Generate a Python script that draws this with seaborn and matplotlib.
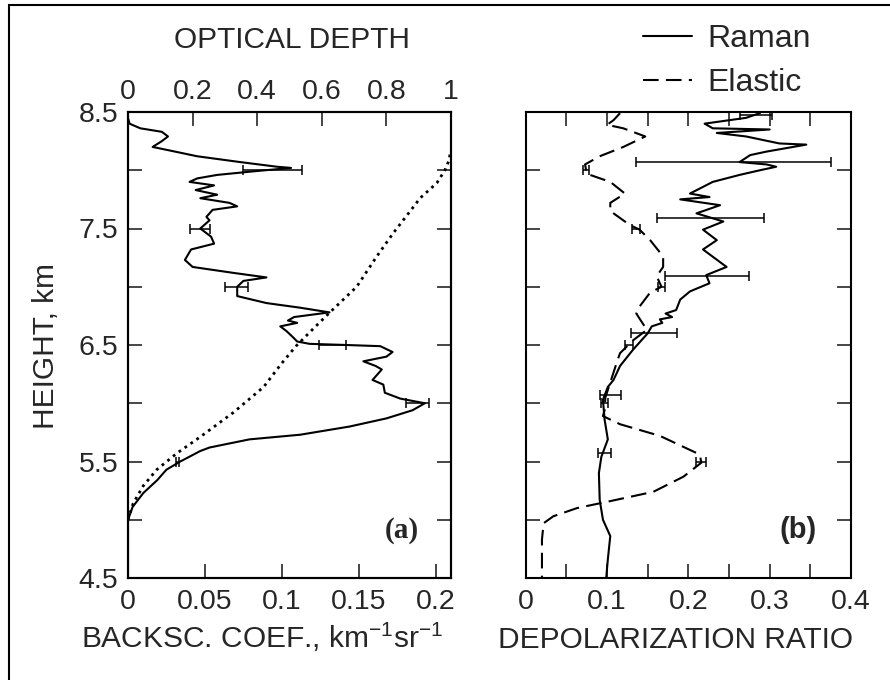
import numpy as np
import matplotlib
matplotlib.use("Agg")
import matplotlib.pyplot as plt
from matplotlib.patches import Rectangle
import seaborn as sns

# ---------------- data ----------------
# Panel (a): backscatter coefficient (km^-1 sr^-1) vs height (km)
h_back = [8.50, 8.45, 8.40, 8.36, 8.33, 8.29, 8.25, 8.20, 8.17, 8.12, 8.07, 8.03,
          8.02, 7.99, 7.96, 7.93, 7.90, 7.87, 7.83, 7.79, 7.76, 7.72, 7.69, 7.66,
          7.60, 7.57, 7.50, 7.43, 7.37, 7.32, 7.23, 7.17, 7.12, 7.08, 7.05, 7.00,
          6.92, 6.86, 6.82, 6.78, 6.74, 6.71, 6.69, 6.66, 6.62, 6.57, 6.53, 6.51,
          6.50, 6.49, 6.44, 6.40, 6.36, 6.32, 6.29, 6.20, 6.16, 6.09, 6.04, 6.00,
          5.94, 5.87, 5.80, 5.73, 5.69, 5.62, 5.59, 5.50, 5.43, 5.34, 5.23, 5.11,
          5.00, 4.80, 4.50]
backsc = [0.000, 0.000, 0.001, 0.008, 0.022, 0.026, 0.022, 0.016, 0.027, 0.045, 0.073, 0.097,
          0.106, 0.081, 0.058, 0.045, 0.040, 0.056, 0.044, 0.058, 0.047, 0.066, 0.071, 0.055,
          0.051, 0.053, 0.047, 0.054, 0.056, 0.041, 0.037, 0.042, 0.068, 0.090, 0.075, 0.071,
          0.071, 0.090, 0.112, 0.131, 0.108, 0.104, 0.110, 0.099, 0.103, 0.107, 0.110, 0.118,
          0.142, 0.164, 0.172, 0.168, 0.153, 0.161, 0.165, 0.159, 0.166, 0.167, 0.177, 0.193,
          0.185, 0.168, 0.144, 0.112, 0.079, 0.053, 0.047, 0.034, 0.025, 0.019, 0.010, 0.003,
          0.000, 0.000, 0.000]
backsc_err_h = [8.00, 7.50, 7.00, 6.50, 6.00, 5.50]
backsc_err_x = [0.094, 0.047, 0.0705, 0.133, 0.188, 0.032]
backsc_err = [0.019, 0.0065, 0.0075, 0.009, 0.0075, 0.001]

# Panel (a): optical depth (top axis)
h_od = [5.00, 5.14, 5.29, 5.43, 5.57, 5.71, 5.92, 6.14, 6.34, 6.49, 6.63, 6.78,
        7.00, 7.26, 7.46, 7.69, 7.76, 7.89, 8.00, 8.08, 8.15]
optical_depth = [0.000, 0.016, 0.047, 0.089, 0.151, 0.223, 0.326, 0.420, 0.475, 0.520, 0.570, 0.625,
                 0.708, 0.770, 0.821, 0.885, 0.904, 0.956, 0.981, 0.993, 0.998]

# Panel (b): depolarization ratio, Raman
h_raman = [8.49, 8.45, 8.40, 8.36, 8.35, 8.32, 8.29, 8.23, 8.22, 8.16, 8.13, 8.07,
           8.05, 8.03, 8.00, 7.96, 7.90, 7.80, 7.77, 7.75, 7.70, 7.63, 7.56, 7.49,
           7.40, 7.32, 7.17, 7.10, 7.03, 6.96, 6.89, 6.80, 6.77, 6.74, 6.72, 6.69,
           6.66, 6.60, 6.46, 6.32, 6.20, 6.14, 6.03, 5.86, 5.69, 5.54, 5.40, 5.17,
           5.00, 4.86, 4.66, 4.50]
raman = [0.288, 0.271, 0.220, 0.230, 0.300, 0.235, 0.271, 0.312, 0.345, 0.296, 0.276, 0.263,
         0.296, 0.308, 0.288, 0.263, 0.230, 0.202, 0.226, 0.190, 0.239, 0.210, 0.243, 0.218,
         0.235, 0.218, 0.247, 0.222, 0.226, 0.202, 0.190, 0.185, 0.172, 0.180, 0.165, 0.168,
         0.155, 0.150, 0.132, 0.116, 0.108, 0.101, 0.095, 0.097, 0.101, 0.093, 0.090, 0.091,
         0.095, 0.104, 0.101, 0.099]
raman_err_h = [8.47, 8.07, 7.59, 7.09, 6.60, 6.07, 5.57]
raman_err_x = [0.283, 0.256, 0.227, 0.223, 0.158, 0.104, 0.097]
raman_err = [0.020, 0.120, 0.066, 0.052, 0.028, 0.013, 0.008]

# Panel (b): depolarization ratio, Elastic
h_elastic = [8.49, 8.43, 8.39, 8.36, 8.29, 8.20, 8.12, 8.05, 7.97, 7.90, 7.80, 7.72,
             7.65, 7.53, 7.49, 7.40, 7.26, 7.17, 7.09, 7.00, 6.95, 6.83, 6.77, 6.63,
             6.54, 6.43, 6.35, 6.20, 6.05, 5.94, 5.89, 5.82, 5.72, 5.56, 5.49, 5.37,
             5.24, 5.16, 5.10, 5.03, 4.97, 4.83, 4.50]
elastic = [0.116, 0.108, 0.100, 0.120, 0.147, 0.120, 0.091, 0.073, 0.075, 0.104, 0.122, 0.104,
           0.104, 0.128, 0.140, 0.153, 0.169, 0.169, 0.161, 0.167, 0.153, 0.140, 0.136, 0.149,
           0.132, 0.116, 0.112, 0.105, 0.098, 0.097, 0.095, 0.116, 0.165, 0.214, 0.216, 0.194,
           0.157, 0.104, 0.063, 0.034, 0.022, 0.020, 0.020]
elastic_err_h = [8.00, 7.50, 7.00, 6.50, 6.00, 5.50]
elastic_err_x = [0.074, 0.136, 0.167, 0.127, 0.097, 0.216]
elastic_err = [0.004, 0.005, 0.004, 0.005, 0.004, 0.006]

# tick definitions
y_ticks = [4.5, 5.0, 5.5, 6.0, 6.5, 7.0, 7.5, 8.0, 8.5]
y_ticklabels = ["4.5", "", "5.5", "", "6.5", "", "7.5", "", "8.5"]
backsc_ticks = [0, 0.05, 0.1, 0.15, 0.2]
backsc_ticklabels = ["0", "0.05", "0.1", "0.15", "0.2"]
od_ticks = [0, 0.2, 0.4, 0.6, 0.8, 1.0]
od_ticklabels = ["0", "0.2", "0.4", "0.6", "0.8", "1"]
dep_ticks = [0, 0.05, 0.1, 0.15, 0.2, 0.25, 0.3, 0.35, 0.4]
dep_ticklabels = ["0", "", "0.1", "", "0.2", "", "0.3", "", "0.4"]

# ---------------- style ----------------
sns.set_theme(style="ticks")
plt.rcParams["font.family"] = ["Liberation Sans", "DejaVu Sans"]
plt.rcParams["mathtext.fontset"] = "custom"
plt.rcParams["mathtext.rm"] = "Liberation Sans"
plt.rcParams["mathtext.it"] = "Liberation Sans"
plt.rcParams["mathtext.default"] = "regular"
FS = 20.5
LFS = 21.5
LW = 1.5

fig = plt.figure(figsize=(8.9, 6.8), dpi=100)
W, H = 890.0, 680.0
ax1 = fig.add_axes([128 / W, 1 - 578 / H, 323 / W, 466 / H])
ax2 = fig.add_axes([525.7 / W, 1 - 578 / H, 325.3 / W, 466 / H])

# ---------------- panel (a) ----------------
sns.lineplot(x=backsc, y=h_back, sort=False, estimator=None, color="black",
             linewidth=LW, ax=ax1)
ax1.errorbar(backsc_err_x, backsc_err_h, xerr=backsc_err, fmt="none",
             ecolor="black", elinewidth=1.1, capsize=3.5, capthick=1.1)
ax1.set_xlim(0, 0.21)
ax1.set_ylim(4.5, 8.5)
ax1top = ax1.twiny()
sns.lineplot(x=optical_depth, y=h_od, sort=False, estimator=None, color="black",
             linewidth=2.0, linestyle=(0, (1, 1.6)), ax=ax1top)
ax1top.set_xlim(0, 1)
ax1top.set_ylim(4.5, 8.5)

ax1.set_xticks(backsc_ticks)
ax1.set_xticklabels(backsc_ticklabels)
ax1.set_yticks(y_ticks)
ax1.set_yticklabels(y_ticklabels)
ax1top.set_xticks(od_ticks)
ax1top.set_xticklabels(od_ticklabels)

ax1.tick_params(axis="x", bottom=True, top=False, direction="in", length=10,
                width=1.2, labelsize=FS, pad=8)
ax1.tick_params(axis="y", left=True, right=True, direction="in", length=10,
                width=1.2, labelsize=FS, pad=7)
ax1top.tick_params(axis="x", top=True, bottom=False, direction="in", length=10,
                   width=1.2, labelsize=FS, pad=5)
for a in (ax1, ax1top):
    a.set_xlabel("")
    a.set_ylabel("")
    for s in a.spines.values():
        s.set_linewidth(LW)
        s.set_color("black")
        s.set_visible(True)

ax1.text(0.847, (4.906 - 4.5) / 4.0, "(a)", transform=ax1.transAxes, ha="center",
         va="center", fontsize=21, fontweight="bold",
         family=["Liberation Serif", "DejaVu Serif"])

# ---------------- panel (b) ----------------
sns.lineplot(x=raman, y=h_raman, sort=False, estimator=None, color="black",
             linewidth=LW, label="Raman", ax=ax2)
sns.lineplot(x=elastic, y=h_elastic, sort=False, estimator=None, color="black",
             linewidth=LW, linestyle=(0, (7.5, 3.5)), label="Elastic", ax=ax2)
ax2.errorbar(raman_err_x, raman_err_h, xerr=raman_err, fmt="none",
             ecolor="black", elinewidth=1.1, capsize=3.5, capthick=1.1)
ax2.errorbar(elastic_err_x, elastic_err_h, xerr=elastic_err, fmt="none",
             ecolor="black", elinewidth=1.1, capsize=3.5, capthick=1.1)
ax2.set_xlim(0, 0.4)
ax2.set_ylim(4.5, 8.5)
ax2.set_xticks(dep_ticks)
ax2.set_xticklabels(dep_ticklabels)
ax2.set_yticks(y_ticks)
ax2.set_yticklabels([])
ax2.tick_params(axis="x", bottom=True, top=True, direction="in", length=10,
                width=1.2, labelsize=FS, pad=8)
ax2.tick_params(axis="y", left=True, right=True, direction="in", length=10,
                width=1.2, labelleft=False)
ax2.set_xlabel("")
ax2.set_ylabel("")
for s in ax2.spines.values():
    s.set_linewidth(LW)
    s.set_color("black")
    s.set_visible(True)

ax2.text(0.837, (4.915 - 4.5) / 4.0, "(b)", transform=ax2.transAxes, ha="center",
         va="center", fontsize=21, fontweight="bold")

handles, labels = ax2.get_legend_handles_labels()
ax2.legend(handles, labels, loc="upper left",
           bbox_to_anchor=(643 / W, 1 - 24 / H), bbox_transform=fig.transFigure,
           frameon=False, fontsize=23, handlelength=1.54, handletextpad=0.46,
           labelspacing=0.43, borderpad=0, borderaxespad=0)

# ---------------- figure texts ----------------
fig.text(291.5 / W, 1 - 48.3 / H, "OPTICAL DEPTH", ha="center", va="baseline",
         fontsize=LFS)
fig.text(46 / W, 1 - 346 / H, "HEIGHT, km", rotation=90, ha="center",
         va="center", fontsize=LFS)
fig.text(262 / W, 1 - 648 / H, "BACKSC. COEF., km$^{-1}$sr$^{-1}$", ha="center",
         va="baseline", fontsize=LFS)
fig.text(676 / W, 1 - 648 / H, "DEPOLARIZATION RATIO", ha="center",
         va="baseline", fontsize=LFS)

# outer frame
fig.add_artist(Rectangle((9 / W, -0.1), 1.2, 1.1 - 5 / H, fill=False,
                         edgecolor="black", linewidth=1.5,
                         transform=fig.transFigure))

fig.savefig("out.png", dpi=100)
